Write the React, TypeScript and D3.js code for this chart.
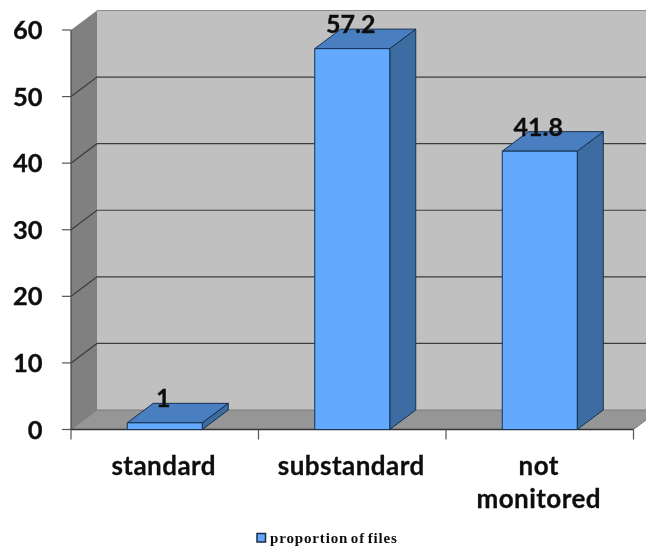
import React from "react";
import * as d3 from "d3";

const categories = ["standard", "substandard", "not monitored"];
const values = [1, 57.2, 41.8];
const yTicks = [0, 10, 20, 30, 40, 50, 60];
const legendLabel = "proportion of files";

const width = 646;
const height = 550;
const depthX = 26;
const depthY = 19.5;
const labelFont = "Lato, sans-serif";

const y = d3.scaleLinear().domain([0, 60]).range([429.5, 30]);
const x = d3
  .scaleBand()
  .domain(categories)
  .range([71, 633.5])
  .paddingInner(0.6)
  .paddingOuter(0.3);

const x0 = 71;
const x1 = 633.5;
const step = x.step();

// parallelogram helper, dx/dy go towards the back of the box
const poly = (pts: number[][]) => d3.line()(pts as [number, number][]) + "Z";

const App = () => {
  const yTop = y(60);
  const yBase = y(0);

  return (
    <svg
      width={width}
      height={height}
      style={{ position: "absolute", left: 0, top: 0, background: "#fff" }}
    >
      <defs>
        <filter id="soft" x="-5%" y="-5%" width="110%" height="110%">
          <feGaussianBlur stdDeviation="0.45" />
        </filter>
      </defs>
      <g filter="url(#soft)">
        {/* back wall */}
        <rect
          x={x0 + depthX}
          y={yTop - depthY}
          width={width - x0 - depthX + 30}
          height={yBase - yTop}
          fill="#c0c0c0"
        />
        <line
          x1={x0 + depthX}
          x2={width}
          y1={yTop - depthY}
          y2={yTop - depthY}
          stroke="#8c8c8c"
          strokeWidth={1.2}
        />
        {/* side wall */}
        <path
          d={poly([
            [x0, yTop],
            [x0 + depthX, yTop - depthY],
            [x0 + depthX, yBase - depthY],
            [x0, yBase],
          ])}
          fill="#808080"
        />
        {/* floor */}
        <path
          d={poly([
            [x0, yBase],
            [x0 + depthX, yBase - depthY],
            [x1 + depthX, yBase - depthY],
            [x1, yBase],
          ])}
          fill="#969696"
          stroke="#6e6e6e"
          strokeWidth={0.8}
        />
        {/* grid lines */}
        {yTicks
          .filter((t) => t > 0 && t < 60)
          .map((t) => (
            <path
              key={t}
              d={`M${x0},${y(t)}L${x0 + depthX},${y(t) - depthY}L${width},${y(t) - depthY}`}
              fill="none"
              stroke="#3c3c3c"
              strokeWidth={1.2}
            />
          ))}
        {/* axes */}
        <line x1={x0} x2={x0} y1={yTop} y2={yBase} stroke="#444" strokeWidth={1.2} />
        <line x1={x0} x2={x1} y1={yBase} y2={yBase} stroke="#333" strokeWidth={1.4} />
        {yTicks.map((t) => (
          <line key={t} x1={x0 - 9} x2={x0} y1={y(t)} y2={y(t)} stroke="#555" strokeWidth={1.2} />
        ))}
        {d3.range(categories.length + 1).map((i) => (
          <line
            key={i}
            x1={x0 + i * step}
            x2={x0 + i * step}
            y1={yBase}
            y2={yBase + 10}
            stroke="#555"
            strokeWidth={1.2}
          />
        ))}
        {/* bars */}
        {categories.map((c, i) => {
          const left = x(c) as number;
          const right = left + x.bandwidth();
          const top = y(values[i]);
          return (
            <g key={c} stroke="#14304f" strokeWidth={1} strokeLinejoin="round">
              <path
                d={poly([
                  [right, top],
                  [right + depthX, top - depthY],
                  [right + depthX, yBase - depthY],
                  [right, yBase],
                ])}
                fill="#3e6ca3"
              />
              <path
                d={poly([
                  [left, top],
                  [left + depthX, top - depthY],
                  [right + depthX, top - depthY],
                  [right, top],
                ])}
                fill="#4a7fc0"
              />
              <rect x={left} y={top} width={x.bandwidth()} height={yBase - top} fill="#62a9ff" />
            </g>
          );
        })}
        {/* value labels */}
        {categories.map((c, i) => (
          <text
            key={c}
            x={(x(c) as number) + x.bandwidth() / 2 - 1.5}
            y={y(values[i]) - 15.5}
            textAnchor="middle"
            fontFamily={labelFont}
            fontWeight={700}
            fontSize={25}
            stroke="#111"
            strokeWidth={0.35}
            fill="#111"
          >
            {values[i]}
          </text>
        ))}
        {/* y tick labels */}
        {yTicks.map((t) => (
          <text
            key={t}
            x={42.5}
            y={y(t) + 9}
            textAnchor="end"
            fontFamily={labelFont}
            fontWeight={700}
            fontSize={25.5}
            stroke="#111"
            strokeWidth={0.35}
            fill="#111"
          >
            {t}
          </text>
        ))}
        {/* category labels, wrapped on spaces only where the original wraps */}
        {categories.map((c) => {
          const lines = c === "not monitored" ? c.split(" ") : [c];
          return lines.map((l, j) => (
            <text
              key={l}
              x={(x(c) as number) + x.bandwidth() / 2 - 1}
              y={475 + j * 33}
              textAnchor="middle"
              fontFamily={labelFont}
              fontWeight={700}
              fontSize={26}
              letterSpacing={0.45}
              stroke="#111"
              strokeWidth={0.3}
              fill="#111"
            >
              {l}
            </text>
          ));
        })}
        {/* legend */}
        <rect x={257} y={533.5} width={8.5} height={8.5} fill="#62a9ff" stroke="#1a2c44" strokeWidth={1.5} />
        <text
          x={270}
          y={543}
          fontFamily="'Liberation Serif', serif"
          fontWeight={700}
          fontSize={15}
          letterSpacing={0.85}
          wordSpacing={-2}
          fill="#111"
        >
          {legendLabel}
        </text>
      </g>
    </svg>
  );
};

export default App;
